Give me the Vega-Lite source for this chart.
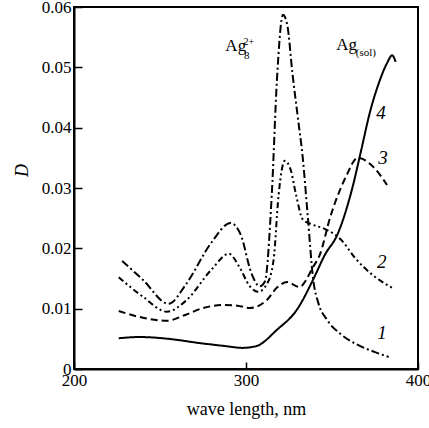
{
  "$schema": "https://vega.github.io/schema/vega-lite/v6.json",
  "width": 344,
  "height": 362,
  "autosize": "none",
  "padding": {"left": 74, "top": 7, "right": 11, "bottom": 59},
  "background": "white",
  "config": {
    "view": {"stroke": "black", "strokeWidth": 2},
    "font": "Liberation Serif"
  },
  "datasets": {
    "curves": [
      {"s": "1", "nm": 228, "D": 0.0179},
      {"s": "1", "nm": 240, "D": 0.0148},
      {"s": "1", "nm": 255, "D": 0.0108},
      {"s": "1", "nm": 265, "D": 0.0140},
      {"s": "1", "nm": 280, "D": 0.0210},
      {"s": "1", "nm": 291, "D": 0.0242},
      {"s": "1", "nm": 297, "D": 0.0222},
      {"s": "1", "nm": 303, "D": 0.0160},
      {"s": "1", "nm": 308, "D": 0.0137},
      {"s": "1", "nm": 311, "D": 0.0145},
      {"s": "1", "nm": 315, "D": 0.0290},
      {"s": "1", "nm": 318, "D": 0.0480},
      {"s": "1", "nm": 321.5, "D": 0.0587},
      {"s": "1", "nm": 324, "D": 0.0570},
      {"s": "1", "nm": 327, "D": 0.0490},
      {"s": "1", "nm": 330, "D": 0.0420},
      {"s": "1", "nm": 333, "D": 0.0350},
      {"s": "1", "nm": 336, "D": 0.0250},
      {"s": "1", "nm": 339, "D": 0.0150},
      {"s": "1", "nm": 342, "D": 0.0110},
      {"s": "1", "nm": 347, "D": 0.0082},
      {"s": "1", "nm": 355, "D": 0.0058},
      {"s": "1", "nm": 365, "D": 0.0040},
      {"s": "1", "nm": 375, "D": 0.0028},
      {"s": "1", "nm": 383, "D": 0.0020},
      {"s": "2", "nm": 226, "D": 0.0152},
      {"s": "2", "nm": 240, "D": 0.0120},
      {"s": "2", "nm": 254, "D": 0.0095},
      {"s": "2", "nm": 265, "D": 0.0113},
      {"s": "2", "nm": 280, "D": 0.0165},
      {"s": "2", "nm": 290, "D": 0.0191},
      {"s": "2", "nm": 296, "D": 0.0170},
      {"s": "2", "nm": 302, "D": 0.0138},
      {"s": "2", "nm": 307, "D": 0.0128},
      {"s": "2", "nm": 312, "D": 0.0140},
      {"s": "2", "nm": 316, "D": 0.0180},
      {"s": "2", "nm": 319, "D": 0.0290},
      {"s": "2", "nm": 322.5, "D": 0.0345},
      {"s": "2", "nm": 326, "D": 0.0330},
      {"s": "2", "nm": 329, "D": 0.0290},
      {"s": "2", "nm": 333, "D": 0.0248},
      {"s": "2", "nm": 338, "D": 0.0240},
      {"s": "2", "nm": 346, "D": 0.0232},
      {"s": "2", "nm": 355, "D": 0.0215},
      {"s": "2", "nm": 364, "D": 0.0182},
      {"s": "2", "nm": 374, "D": 0.0155},
      {"s": "2", "nm": 386, "D": 0.0133},
      {"s": "3", "nm": 226, "D": 0.0096},
      {"s": "3", "nm": 240, "D": 0.0085},
      {"s": "3", "nm": 254, "D": 0.0080},
      {"s": "3", "nm": 265, "D": 0.0090},
      {"s": "3", "nm": 275, "D": 0.0101},
      {"s": "3", "nm": 287, "D": 0.0106},
      {"s": "3", "nm": 295, "D": 0.0105},
      {"s": "3", "nm": 302, "D": 0.0101},
      {"s": "3", "nm": 312, "D": 0.0114},
      {"s": "3", "nm": 318, "D": 0.0135},
      {"s": "3", "nm": 324, "D": 0.0144},
      {"s": "3", "nm": 331, "D": 0.0136},
      {"s": "3", "nm": 339, "D": 0.0169},
      {"s": "3", "nm": 343, "D": 0.0190},
      {"s": "3", "nm": 349, "D": 0.0252},
      {"s": "3", "nm": 358, "D": 0.0318},
      {"s": "3", "nm": 365, "D": 0.0350},
      {"s": "3", "nm": 374, "D": 0.0335},
      {"s": "3", "nm": 382, "D": 0.0305},
      {"s": "4", "nm": 226, "D": 0.0051},
      {"s": "4", "nm": 238, "D": 0.0053},
      {"s": "4", "nm": 255, "D": 0.0050},
      {"s": "4", "nm": 273, "D": 0.0043},
      {"s": "4", "nm": 288, "D": 0.0038},
      {"s": "4", "nm": 298, "D": 0.0035},
      {"s": "4", "nm": 306, "D": 0.0038},
      {"s": "4", "nm": 318, "D": 0.0065},
      {"s": "4", "nm": 330, "D": 0.0100},
      {"s": "4", "nm": 339, "D": 0.0148},
      {"s": "4", "nm": 346, "D": 0.0190},
      {"s": "4", "nm": 353, "D": 0.0222},
      {"s": "4", "nm": 362, "D": 0.0302},
      {"s": "4", "nm": 367, "D": 0.0363},
      {"s": "4", "nm": 372, "D": 0.0425},
      {"s": "4", "nm": 378, "D": 0.0480},
      {"s": "4", "nm": 382, "D": 0.0507},
      {"s": "4", "nm": 385, "D": 0.0520},
      {"s": "4", "nm": 387, "D": 0.0509}
    ],
    "numlabels": [
      {"t": "4", "nm": 378.5, "D": 0.0424},
      {"t": "3", "nm": 379.7, "D": 0.0350},
      {"t": "2", "nm": 378.9, "D": 0.0177},
      {"t": "1", "nm": 379.1, "D": 0.0060}
    ],
    "main": [
      {"t": "Ag", "nm": 288.0, "D": 0.0527},
      {"t": "Ag", "nm": 352.5, "D": 0.0529}
    ],
    "sup": [
      {"t": "2+", "nm": 298.6, "D": 0.0537}
    ],
    "sub": [
      {"t": "8", "nm": 298.8, "D": 0.0514},
      {"t": "(sol)", "nm": 363.8, "D": 0.0519}
    ]
  },
  "encoding": {
    "x": {
      "field": "nm", "type": "quantitative",
      "scale": {"domain": [200, 400], "nice": false, "zero": false},
      "axis": {
        "values": [200, 300, 400],
        "title": "wave length, nm",
        "titleFont": "Liberation Serif", "titleFontSize": 18, "titleFontWeight": "normal", "titleColor": "black",
        "titlePadding": 12,
        "labelFont": "Liberation Serif", "labelFontSize": 17, "labelColor": "black",
        "labelFlush": false,
        "labelPadding": 10,
        "tickSize": -7, "tickColor": "black", "tickWidth": 1.5,
        "domainColor": "black", "domainWidth": 2,
        "grid": false
      }
    },
    "y": {
      "field": "D", "type": "quantitative",
      "scale": {"domain": [0, 0.06], "nice": false},
      "axis": {
        "values": [0, 0.01, 0.02, 0.03, 0.04, 0.05, 0.06],
        "labelExpr": "datum.value == 0 ? '0' : format(datum.value, '.2f')",
        "title": "D",
        "titleFont": "Liberation Serif", "titleFontSize": 18, "titleFontStyle": "italic", "titleFontWeight": "normal", "titleColor": "black",
        "titleX": -52, "titleY": 163, "titleBaseline": "middle",
        "labelFont": "Liberation Serif", "labelFontSize": 17, "labelColor": "black",
        "labelFlush": false,
        "labelPadding": 11,
        "tickSize": -8, "tickColor": "black", "tickWidth": 1.5,
        "domainColor": "black", "domainWidth": 2,
        "grid": false
      }
    }
  },
  "layer": [
    {
      "data": {"name": "curves"},
      "mark": {"type": "line", "interpolate": "monotone", "strokeWidth": 2, "color": "black"},
      "encoding": {
        "detail": {"field": "s"},
        "strokeDash": {
          "field": "s", "type": "nominal",
          "scale": {"domain": ["1", "2", "3", "4"], "range": [[8, 3, 2, 3], [6, 3, 2, 3, 2, 3], [7, 4], [1, 0]]},
          "legend": null
        }
      }
    },
    {
      "data": {"name": "numlabels"},
      "mark": {"type": "text", "font": "Liberation Serif", "fontSize": 19, "fontStyle": "italic", "color": "black", "align": "center", "baseline": "middle"},
      "encoding": {"text": {"field": "t"}}
    },
    {
      "data": {"name": "main"},
      "mark": {"type": "text", "font": "Liberation Serif", "fontSize": 17, "color": "black", "align": "left", "baseline": "alphabetic"},
      "encoding": {"text": {"field": "t"}}
    },
    {
      "data": {"name": "sup"},
      "mark": {"type": "text", "font": "Liberation Serif", "fontSize": 10, "color": "black", "align": "left", "baseline": "alphabetic"},
      "encoding": {"text": {"field": "t"}}
    },
    {
      "data": {"name": "sub"},
      "mark": {"type": "text", "font": "Liberation Serif", "fontSize": 11, "color": "black", "align": "left", "baseline": "alphabetic"},
      "encoding": {"text": {"field": "t"}}
    }
  ]
}
